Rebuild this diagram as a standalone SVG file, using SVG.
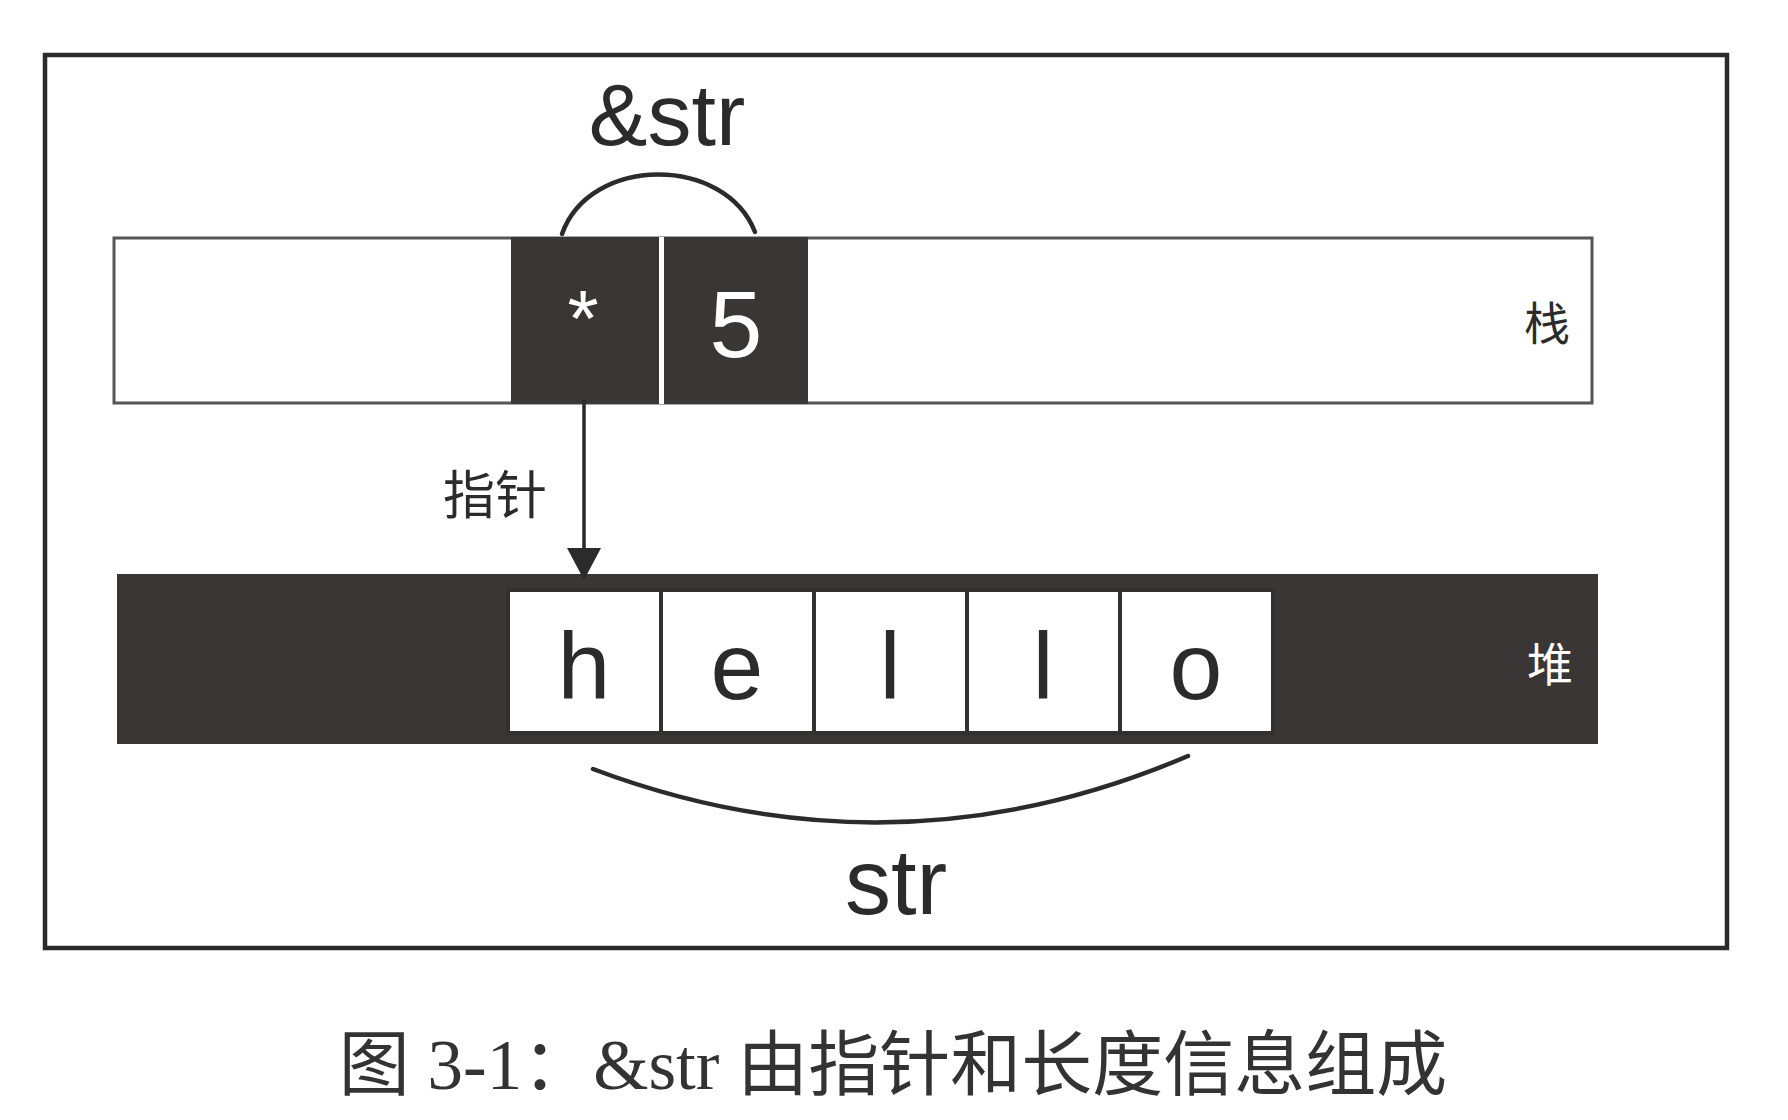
<svg xmlns="http://www.w3.org/2000/svg" width="1788" height="1120" viewBox="0 0 1788 1120">
  <style>
    .lbl { font-family: "Liberation Sans", Arial, sans-serif; fill: #2b2b2b; text-anchor: middle; }
    .wht { font-family: "Liberation Sans", Arial, sans-serif; fill: #ffffff; text-anchor: middle; }
    .cjk { font-family: "Noto Sans CJK SC", sans-serif; text-anchor: middle; }
    .cell { fill: #ffffff; stroke: #333030; stroke-width: 4; }
    .dark { fill: #3b3636; }
    .curve { fill: none; stroke: #2b2b2b; stroke-width: 4.5; stroke-linecap: round; }
  </style>
  <rect width="1788" height="1120" fill="#ffffff"/>
  <g id="frame">
    <rect x="45" y="55" width="1682" height="893" fill="none" stroke="#2b2b2b" stroke-width="4.5"/>
  </g>
  <g id="stack">
    <rect x="114" y="238" width="1478" height="165" fill="#ffffff" stroke="#555" stroke-width="3"/>
    <rect class="dark" x="511" y="237" width="297" height="167"/>
    <rect x="659" y="237" width="5" height="167" fill="#ffffff"/>
    <text class="wht" x="583" y="346" font-size="80">*</text>
    <text class="wht" x="736" y="357" font-size="95">5</text>
    <text class="cjk" x="1547" y="340" font-size="46" fill="#2b2b2b">栈</text>
  </g>
  <g id="heap">
    <rect class="dark" x="117" y="574" width="1481" height="170"/>
    <rect class="cell" x="508" y="590" width="153" height="143"/>
    <rect class="cell" x="661" y="590" width="153" height="143"/>
    <rect class="cell" x="814" y="590" width="153" height="143"/>
    <rect class="cell" x="967" y="590" width="153" height="143"/>
    <rect class="cell" x="1120" y="590" width="153" height="143"/>
    <text class="lbl" x="584" y="699" font-size="95">h</text>
    <text class="lbl" x="737" y="699" font-size="95">e</text>
    <text class="lbl" x="890" y="699" font-size="95">l</text>
    <text class="lbl" x="1043" y="699" font-size="95">l</text>
    <text class="lbl" x="1196" y="699" font-size="95">o</text>
    <text class="cjk" x="1550" y="681" font-size="46" fill="#ffffff">堆</text>
  </g>
  <g id="labels">
    <text id="ref-label" class="lbl" x="667" y="145" font-size="88">&amp;str</text>
    <text id="str-label" class="lbl" x="896" y="914" font-size="92">str</text>
    <text id="ptr-label" class="cjk" x="495" y="514" font-size="52" fill="#2b2b2b">指针</text>
  </g>
  <g id="connectors">
    <path class="curve" d="M562 234 C590 155 725 155 755 232"/>
    <path class="curve" d="M593 769 Q893 882 1188 756"/>
    <line x1="584" y1="400" x2="584" y2="552" stroke="#2b2b2b" stroke-width="3.5"/>
    <path d="M567 548 L601 548 L584 580 z" fill="#2b2b2b"/>
  </g>
  <g id="caption">
    <text x="893" y="1089" font-size="71" fill="#333" text-anchor="middle" font-family="Liberation Serif, Noto Sans CJK SC, serif">图 3-1：&amp;str 由指针和长度信息组成</text>
  </g>
</svg>
